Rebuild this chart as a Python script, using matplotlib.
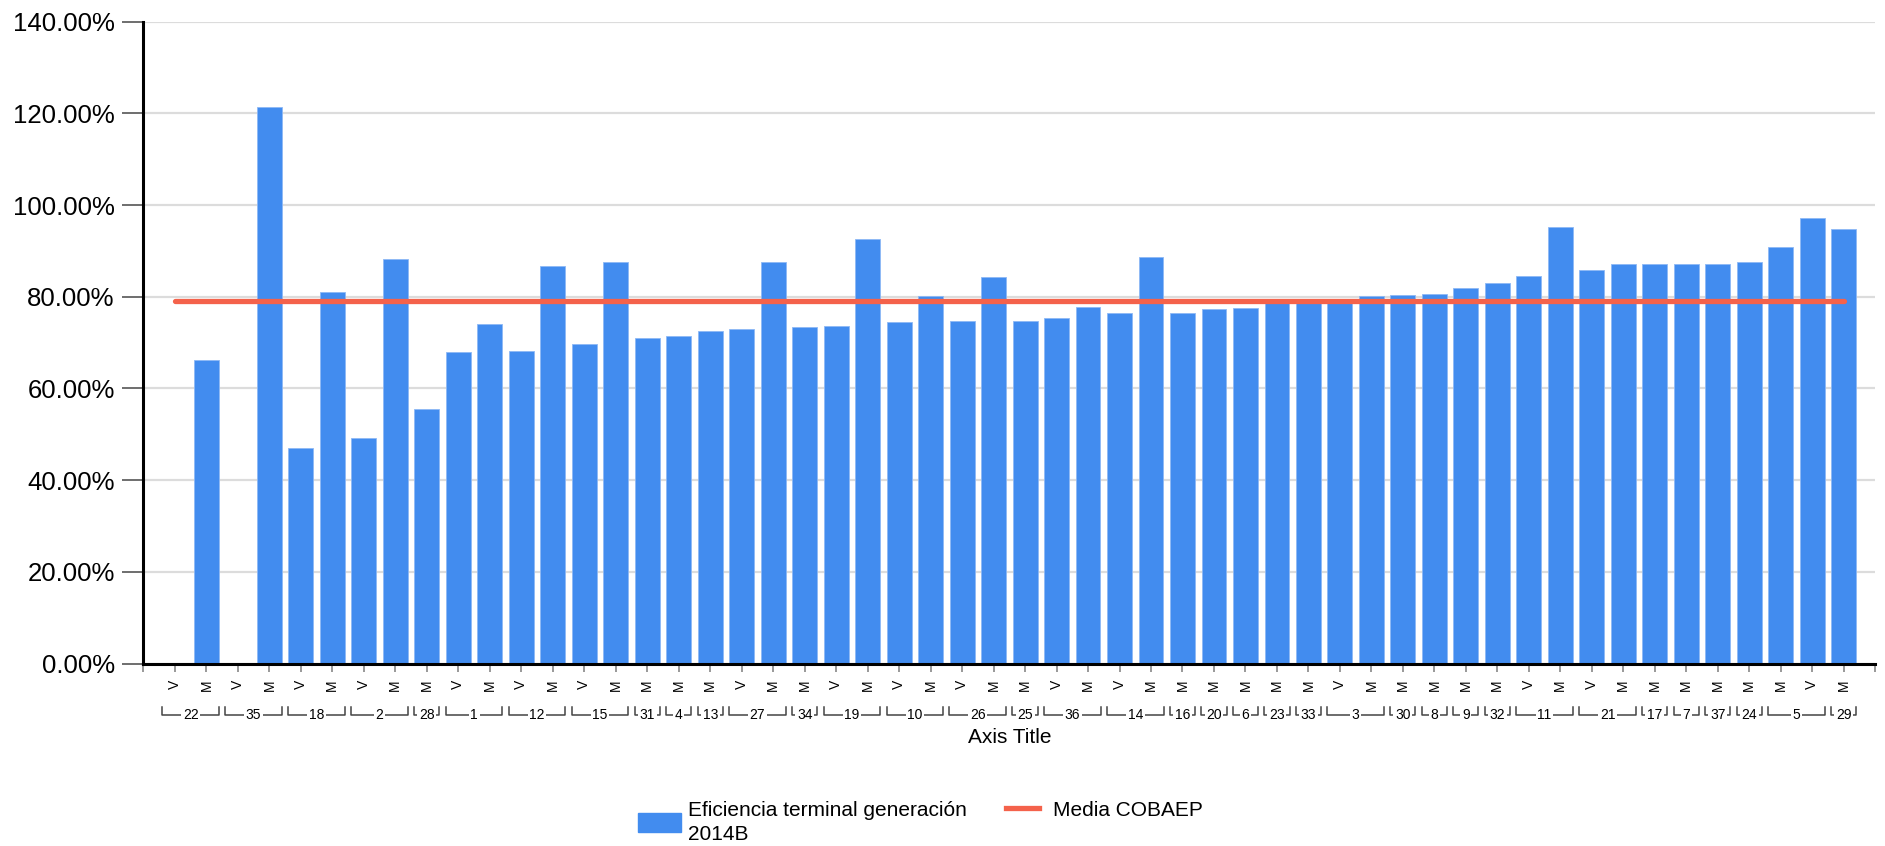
import numpy as np
import matplotlib
matplotlib.use("Agg")
import matplotlib.pyplot as plt
from matplotlib.ticker import FuncFormatter
from matplotlib.patches import Rectangle
from matplotlib.lines import Line2D

plt.rcParams['font.family'] = ['Liberation Sans', 'DejaVu Sans']

# slot labels (turno) and the plantel each slot belongs to
sub_labels = ['V', 'M', 'V', 'M', 'V', 'M', 'V', 'M', 'M', 'V', 'M', 'V', 'M', 'V', 'M',
              'M', 'M', 'M', 'V', 'M', 'M', 'V', 'M', 'V', 'M', 'V', 'M', 'M', 'V', 'M',
              'V', 'M', 'M', 'M', 'M', 'M', 'M', 'V', 'M', 'M', 'M', 'M', 'M', 'V', 'M',
              'V', 'M', 'M', 'M', 'M', 'M', 'M', 'V', 'M']
group_labels = ['22', '22', '35', '35', '18', '18', '2', '2', '28', '1', '1', '12', '12', '15', '15',
                '31', '4', '13', '27', '27', '34', '19', '19', '10', '10', '26', '26', '25', '36', '36',
                '14', '14', '16', '20', '6', '23', '33', '3', '3', '30', '8', '9', '32', '11', '11',
                '21', '21', '17', '7', '37', '24', '5', '5', '29']
eficiencia = [np.nan, 66.3, np.nan, 121.3, 47.0, 81.0, 49.3, 88.3, 55.6, 68.0, 74.0, 68.2, 86.7, 69.8, 87.6,
              71.1, 71.4, 72.6, 72.9, 87.5, 73.4, 73.6, 92.7, 74.4, 80.2, 74.8, 84.3, 74.8, 75.3, 77.7,
              76.4, 88.6, 76.5, 77.3, 77.6, 79.0, 79.3, 79.5, 80.1, 80.3, 80.5, 82.0, 83.1, 84.6, 95.2,
              85.9, 87.1, 87.1, 87.1, 87.2, 87.5, 90.9, 97.1, 94.7]
media_cobaep = 79.15

x = np.arange(len(eficiencia))

fig = plt.figure(figsize=(18.85, 8.46), dpi=100)
ax = fig.add_axes([0.0761, 0.2157, 0.9187, 0.7586])

ax.bar(x, eficiencia, width=0.79, color='#428cef', edgecolor='#8db8f5', linewidth=0.6, zorder=2)
ax.plot([x[0], x[-1]], [media_cobaep, media_cobaep], color='#f4624b', lw=3.8,
        solid_capstyle='round', zorder=3)

ax.set_xlim(-1, len(x))
ax.set_ylim(0, 140)
ax.set_yticks(np.arange(0, 141, 20))
ax.yaxis.set_major_formatter(FuncFormatter(lambda v, p: f'{v:.2f}%'))
ax.grid(axis='y', color='#dcdcdc', lw=1.6, zorder=0)
ax.set_axisbelow(True)

for s in ['top', 'right']:
    ax.spines[s].set_visible(False)
ax.spines['left'].set_linewidth(2.2)
ax.spines['bottom'].set_linewidth(2.2)

ax.tick_params(axis='y', length=14.8, width=1.2, color='#555555', pad=5.8, labelsize=18.5)
ax.set_xticks(np.arange(-1, len(x) + 1))
ax.set_xticklabels([''] + sub_labels + [''], rotation=90, fontsize=10)
ax.tick_params(axis='x', length=5.5, width=1.2, color='#888888', pad=6)

# group brackets under the sub labels
tr = ax.get_xaxis_transform()
y_line, y_top = -0.0802, -0.0678
start = 0
for i in range(1, len(x) + 1):
    if i == len(x) or group_labels[i] != group_labels[start]:
        a, b = start - 0.4, i - 1 + 0.4
        ax.plot([a, a, b, b], [y_top, y_line, y_line, y_top], color='#444444', lw=1.1,
                transform=tr, clip_on=False)
        ax.text((start + i - 1) / 2, y_line, group_labels[start], transform=tr, ha='center',
                va='center', fontsize=10, clip_on=False,
                bbox=dict(fc='white', ec='none', pad=1.2))
        start = i

ax.text(0.5, -0.116, 'Axis Title', transform=ax.transAxes, ha='center', va='center', fontsize=15)

# legend
W, H = 1885, 846
fig.add_artist(Rectangle((638 / W, 1 - 832 / H), 43 / W, 19 / H, transform=fig.transFigure,
                         color='#428cef'))
fig.text(688 / W, 1 - 816 / H, 'Eficiencia terminal generación', fontsize=15, va='baseline')
fig.text(688 / W, 1 - 840 / H, '2014B', fontsize=15, va='baseline')
fig.add_artist(Line2D([1006 / W, 1039 / W], [1 - 808 / H, 1 - 808 / H], transform=fig.transFigure,
                      color='#f4624b', lw=3.8))
fig.text(1053 / W, 1 - 816 / H, 'Media COBAEP', fontsize=15, va='baseline')

fig.savefig('out.png', dpi=100)
